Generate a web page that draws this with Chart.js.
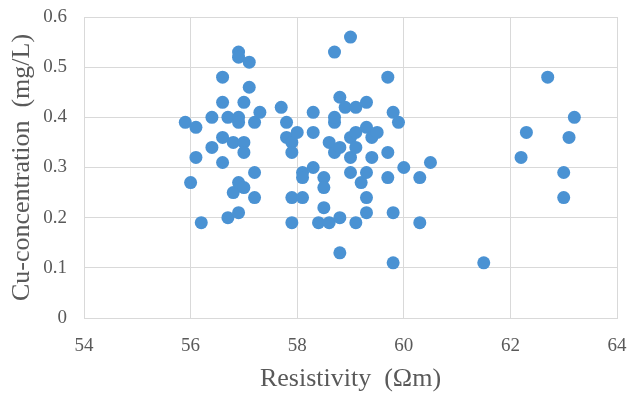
<!DOCTYPE html>
<html>
<head>
<meta charset="utf-8">
<script src="https://cdn.jsdelivr.net/npm/chart.js@4/dist/chart.umd.min.js"></script>
<style>
  body { margin: 0; background: #fff; }
</style>
</head>
<body>
<canvas id="cu" width="630" height="396"></canvas>
<script>
// resistivity (Ωm) and Cu concentration (mg/L)
const resistivity = [
  55.9, 56.0, 56.1, 56.1, 56.2, 56.4, 56.4, 56.6, 56.6, 56.6, 56.6, 56.7, 56.7,
  56.8, 56.8, 56.9, 56.9, 56.9, 56.9, 56.9, 56.9, 57.0, 57.0, 57.0, 57.0, 57.1,
  57.1, 57.2, 57.2, 57.2, 57.3, 57.7, 57.8, 57.8, 57.9, 57.9, 57.9, 57.9, 58.0,
  58.1, 58.1, 58.1, 58.3, 58.3, 58.3, 58.4, 58.5, 58.5, 58.5, 58.6, 58.7, 58.6,
  58.7, 58.7, 58.7, 58.8, 58.8, 58.8, 58.8, 58.9, 59.0, 59.0, 59.0, 59.0, 59.1,
  59.1, 59.1, 59.1, 59.2, 59.3, 59.3, 59.3, 59.3, 59.3, 59.4, 59.4, 59.5, 59.7,
  59.7, 59.7, 59.8, 59.8, 59.8, 59.9, 60.0, 60.3, 60.3, 60.5, 61.5, 62.2, 62.3,
  62.7, 63.0, 63.0, 63.1, 63.2
];
const cuConc = [
  0.39, 0.27, 0.38, 0.32, 0.19, 0.40, 0.34, 0.48, 0.43, 0.36, 0.31, 0.40, 0.20,
  0.35, 0.25, 0.53, 0.52, 0.40, 0.39, 0.27, 0.21, 0.43, 0.35, 0.33, 0.26, 0.51,
  0.46, 0.39, 0.29, 0.24, 0.41, 0.42, 0.39, 0.36, 0.35, 0.33, 0.24, 0.19, 0.37,
  0.29, 0.28, 0.24, 0.41, 0.37, 0.30, 0.19, 0.28, 0.26, 0.22, 0.35, 0.39, 0.19,
  0.53, 0.40, 0.33, 0.44, 0.34, 0.20, 0.13, 0.42, 0.56, 0.36, 0.32, 0.29, 0.42,
  0.37, 0.34, 0.19, 0.27, 0.43, 0.38, 0.29, 0.24, 0.21, 0.36, 0.32, 0.37, 0.48,
  0.33, 0.28, 0.41, 0.21, 0.11, 0.39, 0.30, 0.28, 0.19, 0.31, 0.11, 0.32, 0.37,
  0.48, 0.29, 0.24, 0.36, 0.40
];
const xTicks = [54, 56, 58, 60, 62, 64];
const yTicks = [0, 0.1, 0.2, 0.3, 0.4, 0.5, 0.6];

const serif = "'Liberation Serif', 'Times New Roman', serif";
const gridCol = '#d9d9d9';
const textCol = '#595959';

var ctx = document.getElementById('cu').getContext('2d');
var chart = new Chart(ctx, {
  type: 'scatter',
  data: {
    datasets: [{
      data: resistivity.map((x, i) => ({ x: x, y: cuConc[i] })),
      backgroundColor: '#4a92d3',
      borderWidth: 0,
      pointRadius: 6.5,
      pointHoverRadius: 6.5,
    }],
  },
  options: {
    responsive: false,
    animation: false,
    layout: { padding: { top: 17, right: 13, left: 0, bottom: 0 } },
    plugins: { legend: { display: false }, tooltip: { enabled: false } },
    scales: {
      x: {
        type: 'linear',
        min: 54, max: 64,
        afterBuildTicks: s => { s.ticks = xTicks.map(v => ({ value: v })); },
        afterFit: s => { s.height = 78; s.paddingLeft = 0; s.paddingRight = 0; },
        grid: { color: gridCol, drawTicks: false },
        border: { color: gridCol },
        ticks: { color: textCol, padding: 17, font: { family: serif, size: 19 } },
        title: {
          display: true,
          text: 'Resistivity\u2002(Ωm)',
          color: textCol,
          font: { family: serif, size: 26 },
          padding: { top: 0, bottom: 1 },
        },
      },
      y: {
        min: 0, max: 0.6,
        afterBuildTicks: s => { s.ticks = yTicks.map(v => ({ value: v })); },
        afterFit: s => { s.width = 84; s.paddingTop = 0; s.paddingBottom = 0; },
        grid: { color: gridCol, drawTicks: false },
        border: { color: gridCol },
        ticks: {
          color: textCol, padding: 17, font: { family: serif, size: 19 },
          callback: v => String(+v.toFixed(1)),
        },
        title: {
          display: true,
          text: 'Cu-concentration\u2002(mg/L)',
          color: textCol,
          font: { family: serif, size: 26 },
          padding: { top: 7, bottom: 0 },
        },
      },
    },
  },
});
</script>
</body>
</html>
